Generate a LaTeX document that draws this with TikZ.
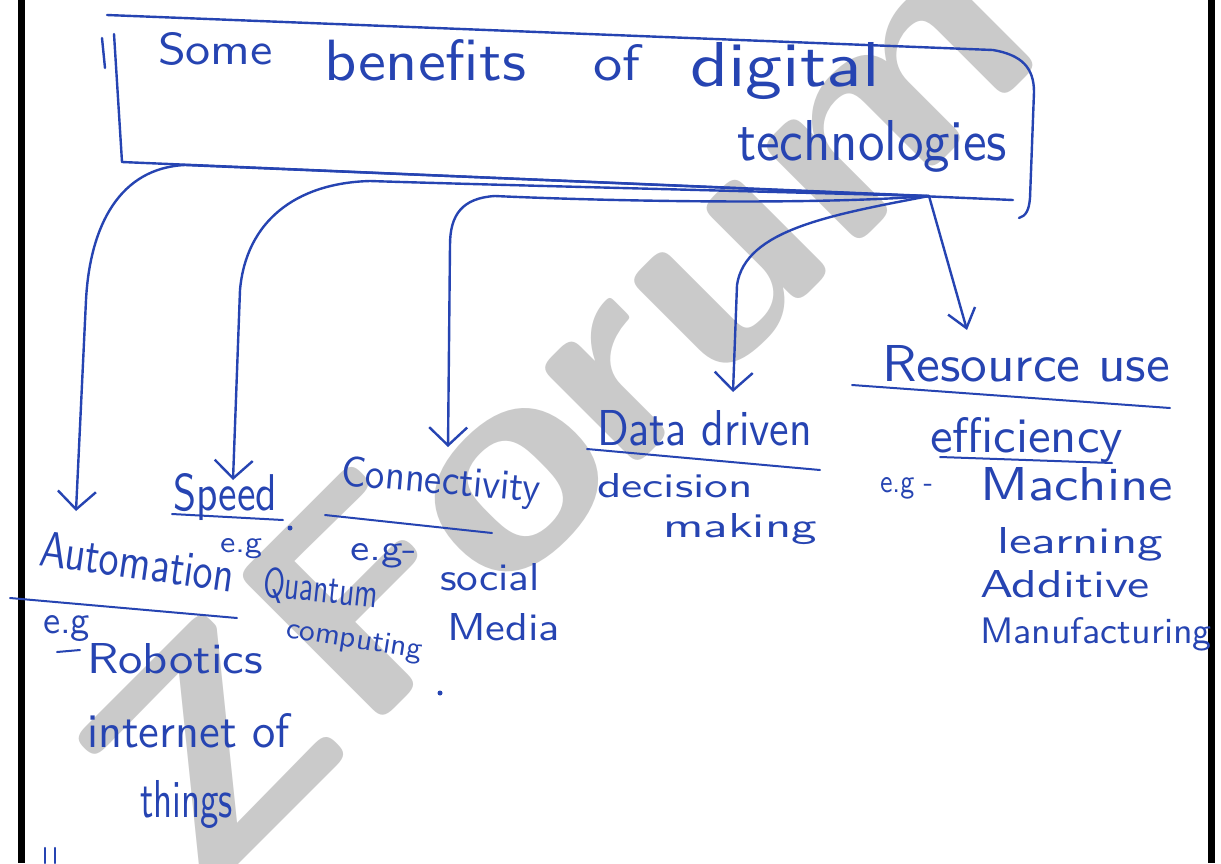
\documentclass[tikz,border=0pt]{standalone}
\usetikzlibrary{arrows.meta}
\usepackage{graphicx}
\definecolor{ink}{RGB}{38,68,178}
\definecolor{wmgray}{RGB}{202,202,202}
% a word set to a given width and height above its baseline (in pt)
\newcommand\hw[3]{\resizebox{#1pt}{#2pt}{#3}}
\begin{document}
\begin{tikzpicture}[x=1pt,y=-1pt,
  pen/.style={draw=ink,line width=2.4pt,line cap=round,line join=round},
  rule/.style={draw=ink,line width=2pt,line cap=round},
  word/.style={inner sep=0pt,outer sep=0pt,anchor=base west,text=ink,font=\sffamily},
  link/.style={pen,-{Straight Barb[length=18pt,width=38pt]}},
]
\useasboundingbox (0,0) rectangle (1221,863);
\fill[white] (0,0) rectangle (1221,863);

% page edges
\fill[black] (18,0) rectangle (25,863);
\fill[black] (1208,0) rectangle (1215,863);

% watermark
\node[rotate=45,text=wmgray,inner sep=0pt,font=\sffamily\bfseries] (wm) at (555,405) {\hw{1200}{205}{ZForum}};

% title frame
\draw[pen] (107,15) -- (993,50) .. controls (1022,55) and (1034,68) .. (1034,92)
  -- (1030,198) .. controls (1029,210) and (1026,216) .. (1019,218);
\draw[pen] (114,34) -- (122,162) -- (1013,200);
\draw[pen] (102,38) -- (105,68);

% title
\node[word] (tsome) at (158,64) {\hw{115}{32}{Some}};
\node[word] (tbenefits) at (324,80) {\hw{202}{41}{benefits}};
\node[word] (tof) at (593,80) {\hw{47}{36}{of}};
\node[word] (tdigital) at (690,86) {\hw{190}{44}{digital}};
\node[word] (ttech) at (737,160) {\hw{270}{40}{technologies}};

% branch point and arrow ends
\coordinate (hub) at (929,196);
\coordinate (auttip) at (76,511);
\coordinate (spdtip) at (233,480);
\coordinate (contip) at (448,447);
\coordinate (dattip) at (733,392);
\coordinate (restip) at (967,330);

\draw[link] (hub) -- (185,165) .. controls (120,168) and (90,225) .. (86,300) -- (auttip);
\draw[link] (hub) .. controls (700,190) and (460,184) .. (370,181)
  .. controls (295,183) and (246,222) .. (240,290) -- (spdtip);
\draw[link] (hub) .. controls (800,206) and (580,200) .. (495,196)
  .. controls (462,198) and (450,215) .. (450,245) -- (contip);
\draw[link] (hub) .. controls (830,215) and (745,230) .. (737,285) -- (dattip);
\draw[pen,-{Straight Barb[length=18pt,width=28pt]}] (hub) -- (restip);

% Resource use efficiency
\node[word] (res1) at (882,381) {\hw{288}{36}{Resource use}};
\draw[rule] (852,385) -- (1170,408);
\node[word] (res2) at (930,452) {\hw{193}{35}{efficiency}};
\draw[rule] (940,457) -- (1112,463);
\node[word] (res3) at (880,492) {\hw{53}{15}{e.g -}};
\node[word] (res4) at (980,500) {\hw{193}{33}{Machine}};
\node[word] (res5) at (997,553) {\hw{166}{26}{learning}};
\node[word] (res6) at (980,597) {\hw{170}{27}{Additive}};
\node[word] (res7) at (980,643) {\hw{232}{26}{Manufacturing}};

% Data driven decision making
\node[word] (dat1) at (597,445) {\hw{215}{35}{Data driven}};
\draw[rule] (587,449) -- (820,470);
\node[word] (dat2) at (597,497) {\hw{156}{24}{decision}};
\node[word] (dat3) at (663,537) {\hw{154}{24}{making}};

% Connectivity
\node[word,rotate=-5] (con1) at (340,485) {\hw{200}{30}{Connectivity}};
\draw[rule] (325,515) -- (492,533);
\node[word] (con2) at (350,560) {\hw{67}{17}{e.g-}};
\node[word] (con3) at (440,590) {\hw{100}{27}{social}};
\node[word] (con4) at (447,640) {\hw{113}{27}{Media}};

% Speed
\node[word] (spd1) at (173,510) {\hw{104}{37}{Speed}};
\draw[rule] (172,514) -- (283,520);
\fill[ink] (290,528) circle (2.5pt);
\node[word] (spd2) at (220,552) {\hw{42}{14}{e.g}};
\node[word,rotate=-6] (spd3) at (262,596) {\hw{115}{30}{Quantum}};
\node[word,rotate=-9] (spd4) at (285,637) {\hw{138}{20}{computing}};
\fill[ink] (440,693) circle (2.5pt);

% Automation
\node[word,rotate=-8] (aut1) at (38,565) {\hw{196}{35}{Automation}};
\draw[rule] (10,598) -- (237,618);
\node[word] (aut2) at (43,633) {\hw{47}{18}{e.g}};
\draw[rule] (57,652) -- (80,650);
\node[word] (aut3) at (87,673) {\hw{176}{30}{Robotics}};
\node[word] (aut4) at (87,747) {\hw{203}{34}{internet of}};
\node[word] (aut5) at (140,817) {\hw{93}{37}{things}};
\draw[pen] (45,848) -- (45,863);
\draw[pen] (55,848) -- (55,863);
\end{tikzpicture}
\end{document}
